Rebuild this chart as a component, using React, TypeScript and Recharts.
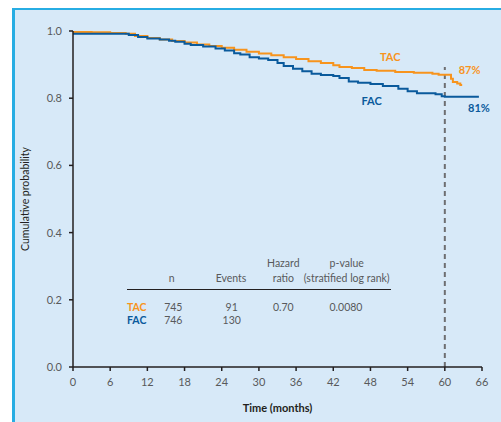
import { Line, LineChart, ReferenceDot, ReferenceLine, XAxis, YAxis } from "recharts"

// Kaplan-Meier style curves
const TAC_MONTHS = [0, 3, 6, 8.5, 10, 12, 14, 16, 18, 20, 22, 24, 26, 28, 30, 32, 34, 36, 38, 40, 42, 43, 45, 47, 49, 52, 55, 58, 59, 60.5, 61, 61.3, 62, 62.5, 62.8]
const TAC_SURVIVAL = [0.997, 0.996, 0.994, 0.992, 0.985, 0.979, 0.975, 0.97, 0.966, 0.96, 0.955, 0.95, 0.944, 0.938, 0.933, 0.928, 0.922, 0.917, 0.91, 0.905, 0.898, 0.893, 0.89, 0.884, 0.882, 0.878, 0.876, 0.873, 0.87, 0.87, 0.858, 0.848, 0.844, 0.839, 0.839]

const FAC_MONTHS = [0, 8.5, 9, 10.5, 12, 14, 15.5, 16.5, 18, 19, 21, 23, 24.5, 26, 27, 28.5, 30, 31.5, 33, 34, 35.5, 37, 38.5, 40, 42, 43, 44.5, 46, 48, 50, 52.5, 54, 55.5, 58.5, 59.5, 60, 65.5]
const FAC_SURVIVAL = [0.992, 0.992, 0.988, 0.982, 0.978, 0.975, 0.971, 0.968, 0.962, 0.958, 0.954, 0.948, 0.942, 0.934, 0.93, 0.922, 0.918, 0.914, 0.905, 0.896, 0.888, 0.88, 0.873, 0.869, 0.866, 0.86, 0.85, 0.846, 0.842, 0.836, 0.828, 0.821, 0.815, 0.812, 0.806, 0.804, 0.804]

const X_TICKS = [0, 6, 12, 18, 24, 30, 36, 42, 48, 54, 60, 66]
const Y_TICKS = [0, 0.2, 0.4, 0.6, 0.8, 1.0]

const ARMS = ["TAC", "FAC"]
const ARM_N = ["745", "746"]
const ARM_EVENTS = ["91", "130"]
const HAZARD_RATIO = "0.70"
const P_VALUE = "0.0080"

const ORANGE = "#f7941d"
const BLUE = "#0a5a9c"
const ARM_COLORS = [ORANGE, BLUE]

function toSeries(months: number[], values: number[]) {
  return months.map((m, i) => ({ month: m, value: values[i] }))
}

const tickStyle = { fontSize: 11, fill: "#58595b", fontFamily: "Lato" }
const axisStroke = { stroke: "#231f20", strokeWidth: 1.5 }

function Cell({ x, y, children, style }: { x: number; y: number; children: React.ReactNode; style?: React.CSSProperties }) {
  return (
    <div
      style={{
        position: "absolute",
        left: x,
        top: y,
        transform: "translate(-50%, -50%)",
        whiteSpace: "nowrap",
        fontSize: 10.5,
        color: "#58595b",
        lineHeight: 1,
        ...style,
      }}
    >
      {children}
    </div>
  )
}

export default function App() {
  const rowY = [306.5, 320]
  return (
    <div style={{ position: "absolute", left: 0, top: 0, width: 501, height: 422, background: "#fff", fontFamily: "Lato" }}>
      <div
        style={{
          position: "absolute",
          left: 12,
          top: 8,
          right: 0,
          bottom: 0,
          background: "#d7e9f8",
          borderTop: "2px solid #27ade3",
          borderLeft: "3px solid #27ade3",
        }}
      />
      <div style={{ position: "absolute", left: 0, top: 0 }}>
        <LineChart width={501} height={422} margin={{ top: 31, right: 19, bottom: 0, left: 0 }} style={{ fontFamily: "Lato" }}>
          <XAxis
            type="number"
            dataKey="month"
            domain={[0, 66]}
            ticks={X_TICKS}
            tick={tickStyle}
            tickSize={4}
            tickMargin={7}
            axisLine={axisStroke}
            tickLine={axisStroke}
            height={55}
            label={{ value: "Time (months)", position: "insideBottom", offset: 10, fontSize: 11, fontWeight: 700, fill: "#231f20" }}
          />
          <YAxis
            type="number"
            dataKey="value"
            domain={[0, 1]}
            ticks={Y_TICKS}
            tickFormatter={(v: number) => v.toFixed(1)}
            tick={tickStyle}
            tickSize={4}
            tickMargin={7}
            axisLine={axisStroke}
            tickLine={axisStroke}
            width={73}
            label={{
              content: () => (
                <text
                  x={25}
                  y={199}
                  transform="rotate(-90 25 199)"
                  textAnchor="middle"
                  dominantBaseline="central"
                  fontSize={10.5}
                  fill="#231f20"
                >
                  Cumulative probability
                </text>
              ),
            }}
          />
          <ReferenceLine
            segment={[
              { x: 60, y: 0 },
              { x: 60, y: 0.893 },
            ]}
            stroke="#6d6e71"
            strokeWidth={2}
            strokeDasharray="5 4"
          />
          <Line
            data={toSeries(TAC_MONTHS, TAC_SURVIVAL)}
            dataKey="value"
            type="stepAfter"
            stroke={ORANGE}
            strokeWidth={2}
            dot={false}
            isAnimationActive={false}
          />
          <Line
            data={toSeries(FAC_MONTHS, FAC_SURVIVAL)}
            dataKey="value"
            type="stepAfter"
            stroke={BLUE}
            strokeWidth={2}
            dot={false}
            isAnimationActive={false}
          />
          <ReferenceDot x={51.2} y={0.922} r={0} label={{ value: "TAC", fill: ORANGE, fontSize: 11, fontWeight: 700, position: "center" }} />
          <ReferenceDot x={64} y={0.883} r={0} label={{ value: "87%", fill: ORANGE, fontSize: 11, fontWeight: 700, position: "center" }} />
          <ReferenceDot x={48.2} y={0.791} r={0} label={{ value: "FAC", fill: BLUE, fontSize: 11, fontWeight: 700, position: "center" }} />
          <ReferenceDot x={65.5} y={0.77} r={0} label={{ value: "81%", fill: BLUE, fontSize: 11, fontWeight: 700, position: "center" }} />
        </LineChart>
      </div>

      {/* summary table inside the plot */}
      <Cell x={171.7} y={277.7}>n</Cell>
      <Cell x={231} y={277.7}>Events</Cell>
      <Cell x={283.3} y={263.3}>Hazard</Cell>
      <Cell x={283.3} y={277.7}>ratio</Cell>
      <Cell x={346.7} y={263.3}>p-value</Cell>
      <Cell x={346.7} y={277.7}>(stratified log rank)</Cell>
      <div style={{ position: "absolute", left: 126.5, top: 288.5, width: 264, height: 1.5, background: "#231f20" }} />
      {ARMS.map((arm, i) => (
        <div key={arm}>
          <Cell x={136.7} y={rowY[i]} style={{ color: ARM_COLORS[i], fontWeight: 700 }}>
            {arm}
          </Cell>
          <Cell x={173.3} y={rowY[i]}>{ARM_N[i]}</Cell>
          <Cell x={231.7} y={rowY[i]}>{ARM_EVENTS[i]}</Cell>
          {i === 0 && <Cell x={283.3} y={rowY[i]}>{HAZARD_RATIO}</Cell>}
          {i === 0 && <Cell x={346} y={rowY[i]}>{P_VALUE}</Cell>}
        </div>
      ))}
    </div>
  )
}
